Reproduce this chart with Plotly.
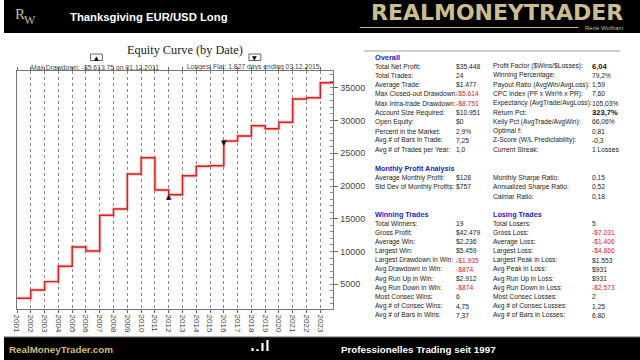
import plotly.graph_objects as go

# ---------------- data ----------------
years = list(range(2001, 2024))
year_labels = [str(y) for y in years]
equity = [2860, 4130, 5400, 7750, 10700, 10080, 15530, 16490, 21830, 24320,
          19390, 18670, 21570, 23010, 23100, 26870, 27630, 29200, 28740,
          29720, 33270, 33470, 35760]
axis_end = 2023.95
dd_index = 11      # max drawdown low (2012 tick)
flat_index = 15    # end of longest flat (2016 tick)
y_ticks = [5000, 10000, 15000, 20000, 25000, 30000, 35000]
y_tick_labels = ["5000", "10000", "15000", "20000", "25000", "30000", "35000"]

overall_rows = [
    ("Total Net Profit:", "$35.448", "Profit Factor ($Wins/$Losses):", "6,04"),
    ("Total Trades:", "24", "Winning Percentage:", "79,2%"),
    ("Average Trade:", "$1.477", "Payout Ratio (AvgWin/AvgLoss):", "1,59"),
    ("Max Closed-out Drawdown:", "-$5.614", "CPC Index (PF x Win% x PR):", "7,60"),
    ("Max Intra-trade Drawdown:", "-$8.751", "Expectancy (AvgTrade/AvgLoss):", "105,03%"),
    ("Account Size Required:", "$10.951", "Return Pct:", "323,7%"),
    ("Open Equity:", "$0", "Kelly Pct (AvgTrade/AvgWin):", "66,06%"),
    ("Percent in the Market:", "2,9%", "Optimal f:", "0,81"),
    ("Avg # of Bars in Trade:", "7,25", "Z-Score (W/L Predictability):", "-0,3"),
    ("Avg # of Trades per Year:", "1,0", "Current Streak:", "1 Losses"),
]
monthly_rows = [
    ("Average Monthly Profit:", "$128", "Monthly Sharpe Ratio:", "0,15"),
    ("Std Dev of Monthly Profits:", "$757", "Annualized Sharpe Ratio:", "0,52"),
    ("", "", "Calmar Ratio:", "0,18"),
]
trade_rows = [
    ("Total Winners:", "19", "Total Losers:", "5"),
    ("Gross Profit:", "$42.479", "Gross Loss:", "-$7.031"),
    ("Average Win:", "$2.236", "Average Loss:", "-$1.406"),
    ("Largest Win:", "$5.459", "Largest Loss:", "-$4.866"),
    ("Largest Drawdown in Win:", "-$1.935", "Largest Peak in Loss:", "$1.553"),
    ("Avg Drawdown in Win:", "-$874", "Avg Peak in Loss:", "$931"),
    ("Avg Run Up in Win:", "$2.912", "Avg Run Up in Loss:", "$931"),
    ("Avg Run Down in Win:", "-$874", "Avg Run Down in Loss:", "-$2.573"),
    ("Most Consec Wins:", "6", "Most Consec Losses:", "2"),
    ("Avg # of Consec Wins:", "4,75", "Avg # of Consec Losses:", "1,25"),
    ("Avg # of Bars in Wins:", "7,37", "Avg # of Bars in Losses:", "6,80"),
]
bold_values = {"6,04", "323,7%"}

# ---------------- helpers ----------------
W, H = 640, 360
def px(x):
    return x / W
def py(y):
    return 1 - y / H

GOLD = "#cbbd8e"
SANS = "Liberation Sans, Arial, sans-serif"

fig = go.Figure()

xs = years + [axis_end]
ys = equity + [equity[-1]]
fig.add_trace(go.Scatter(x=xs, y=ys, mode="lines", line_shape="hv",
                         line=dict(color="rgba(240,140,140,0.45)", width=3.5),
                         hoverinfo="skip", showlegend=False))
fig.add_trace(go.Scatter(x=xs, y=ys, mode="lines", line_shape="hv",
                         line=dict(color="#d81e1e", width=1.4),
                         showlegend=False))

annotations = []
shapes = []

# drawdown / flat markers on the curve
for idx, sym in ((dd_index, "▲"), (flat_index, "▼")):
    annotations.append(dict(x=years[idx], y=equity[idx], xref="x", yref="y",
                            text=sym, showarrow=False, yanchor="top",
                            font=dict(size=7, color="black", family="DejaVu Sans"),
                            borderpad=0, yshift=3))

# header & footer bars
shapes.append(dict(type="rect", xref="paper", yref="paper", x0=0, x1=1,
                   y0=py(33), y1=1, fillcolor="black", line_width=0, layer="above"))
shapes.append(dict(type="rect", xref="paper", yref="paper", x0=0, x1=1,
                   y0=0, y1=py(337), fillcolor="black", line_width=0, layer="above"))
shapes.append(dict(type="line", xref="paper", yref="paper", x0=0, x1=1,
                   y0=py(337), y1=py(337), line=dict(color="#666", width=1), layer="above"))
# gold underline in logo
shapes.append(dict(type="line", xref="paper", yref="paper", x0=px(358), x1=px(578),
                   y0=py(27.5), y1=py(27.5), line=dict(color=GOLD, width=1), layer="above"))
# footer signal icon
for bx, bh in ((249, 3), (254, 2), (259, 8), (264, 11)):
    shapes.append(dict(type="rect", xref="paper", yref="paper", x0=px(bx), x1=px(bx + 2.2),
                       y0=py(351), y1=py(351 - bh), fillcolor="white", line_width=0, layer="above"))
# stats panel top rule
shapes.append(dict(type="line", xref="paper", yref="paper", x0=px(362), x1=px(620),
                   y0=py(51), y1=py(51), line=dict(color="#d0d0d0", width=2), layer="above"))

def ann(x, y, text, size, color, family=SANS, xanchor="left", pad=1):
    annotations.append(dict(x=px(x), y=py(y), text=text,
                            font=dict(size=size, color=color, family=family),
                            xanchor=xanchor, yanchor="middle", showarrow=False,
                            borderpad=pad, xref="paper", yref="paper"))

# header texts
ann(9, 14, "R", 15, GOLD, "Liberation Serif")
ann(18, 20, "W", 12, GOLD, "Liberation Serif")
ann(64, 17, "<b>Thanksgiving EUR/USD Long</b>", 11.3, "white")
ann(624, 12.5, "<b>REALMONEYTRADER</b>", 22, GOLD, "DejaVu Sans, Liberation Sans", "right", 0)
ann(624, 28.5, "René Wolfram", 6, GOLD, SANS, "right", 0)
ann(3, 349, "<b>RealMoneyTrader.com</b>", 9.8, "#d2b872")
ann(337, 349, "<b>Professionelles Trading seit 1997</b>", 9.8, "white")

# chart title and drawdown/flat captions
ann(182, 50, "Equity Curve (by Date)", 12.3, "#222", "Liberation Serif, serif", "center")
ann(92, 67, "Max Drawdown: -$5.613,75 on 01.12.2011", 6.8, "#444", SANS, "center")
ann(251, 67, "Longest Flat: 1.827 days ending 03.12.2015", 6.8, "#444", SANS, "center")
for cx, sym in ((93, "▲"), (252.5, "▼")):
    shapes.append(dict(type="rect", xref="paper", yref="paper", x0=px(cx - 6), x1=px(cx + 6),
                       y0=py(60.5), y1=py(54), line=dict(color="#666", width=1),
                       fillcolor="white", layer="above"))
    ann(cx, 57.3, sym, 6, "black", "DejaVu Sans", "center", 0)

# stats panel
COL = (371.5, 453, 490, 590)
def row(y, r):
    for c, s in zip(COL, r):
        if not s:
            continue
        is_val = c in (COL[1], COL[3])
        red = is_val and s.startswith("-$")
        if s in bold_values:
            ann(c, y, f"<b>{s}</b>", 7.6, "#111")
        else:
            ann(c, y, s, 6.7, "#e02424" if red else "#222")

BLUE = "#2222cc"
ann(COL[0], 57.3, "<b>Overall</b>", 7.4, BLUE)
for i, r in enumerate(overall_rows):
    row(66 + 9.3 * i, r)
ann(COL[0], 168.3, "<b>Monthly Profit Analysis</b>", 7.2, BLUE)
for i, r in enumerate(monthly_rows):
    row(177.7 + 9.2 * i, r)
ann(COL[0], 214, "<b>Winning Trades</b>", 7.2, BLUE)
ann(COL[2], 214, "<b>Losing Trades</b>", 7.2, BLUE)
for i, r in enumerate(trade_rows):
    row(223.3 + 9.2 * i, r)

fig.update_layout(
    width=W, height=H, margin=dict(l=0, r=0, t=0, b=0),
    paper_bgcolor="white", plot_bgcolor="white",
    shapes=shapes, annotations=annotations,
    xaxis=dict(domain=[px(12.7), px(331.5)], range=[2000.97, axis_end],
               tickvals=years, ticktext=year_labels, tickangle=90,
               tickfont=dict(size=8, color="#444", family=SANS),
               ticks="outside", ticklen=3, tickcolor="#666",
               showgrid=True, gridcolor="#888", griddash="dot", gridwidth=1,
               showline=True, linecolor="#777", linewidth=1, mirror="ticks",
               zeroline=False, fixedrange=True),
    yaxis=dict(domain=[py(309), py(71)], range=[1230, 37550], side="right",
               tickvals=y_ticks, ticktext=y_tick_labels,
               ticks="outside", ticklen=4, tickcolor="#666",
               tickfont=dict(size=9, color="#444", family=SANS),
               minor=dict(dtick=1000, ticks="inside", ticklen=3, tickcolor="#888", showgrid=False),
               showgrid=False, showline=True, linecolor="#777", linewidth=1, mirror=True,
               zeroline=False, fixedrange=True),
)

fig.write_html("out.html", config={"displayModeBar": False},
               post_script="document.body.style.margin='0';document.body.style.padding='0';")
